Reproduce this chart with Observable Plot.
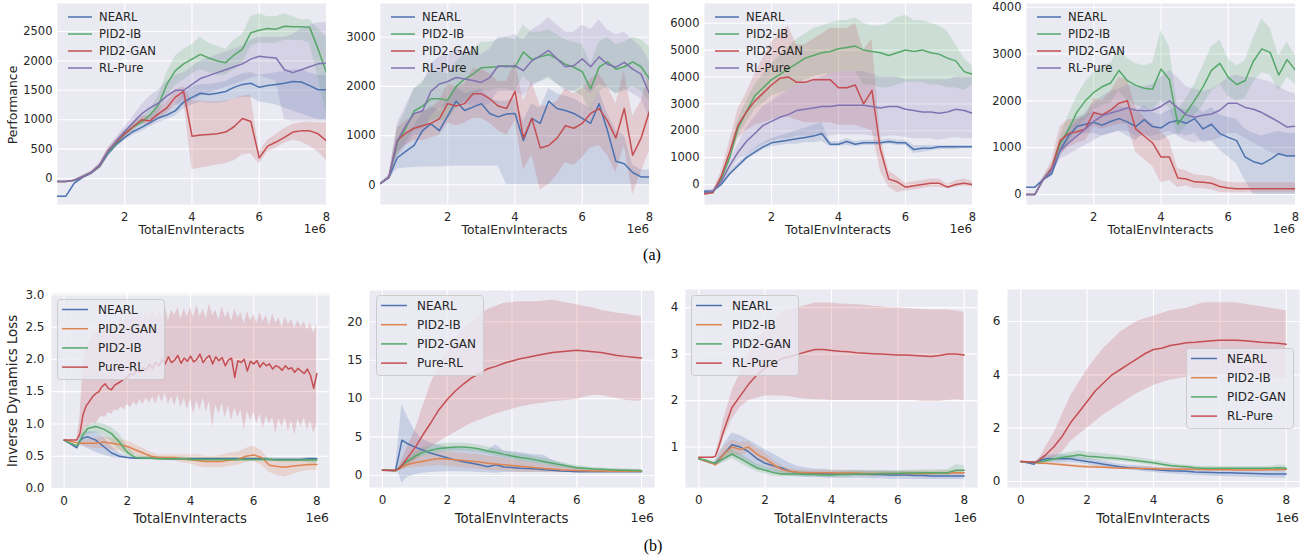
<!DOCTYPE html>
<html><head><meta charset="utf-8">
<script src="https://cdn.jsdelivr.net/npm/d3@7"></script>
<script src="https://cdn.jsdelivr.net/npm/@observablehq/plot@0.6"></script>
<style>
body{margin:0;background:#fff}
#root{position:relative;width:1307px;height:558px;overflow:hidden;background:#fff}
#root svg{position:absolute;overflow:visible}
</style></head><body><div id="root"></div>
<script>
// ---------- x grids (units of 1e6 interactions) ----------
const XA = [0,0.25,0.5,0.75,1,1.25,1.5,1.75,2,2.25,2.5,2.75,3,3.25,3.5,3.75,4,4.25,4.5,4.75,5,5.25,5.5,5.75,6,6.25,6.5,6.75,7,7.25,7.5,7.75,8];
const XB = [0,0.2,0.4,0.5,0.6,0.75, 1,1.25,1.5,1.75, 2,2.25,2.5,2.75, 3,3.25,3.5,3.75, 4,4.25,4.5,4.75, 5,5.25,5.5,5.75, 6,6.25,6.5,6.75, 7,7.25,7.5,7.75, 8];
const XF = [0,0.1,0.2,0.3,0.4,0.5,0.6,0.7,0.8,0.9, 1,1.1,1.2,1.3,1.4,1.5,1.6,1.7,1.8,1.9, 2,2.1,2.2,2.3,2.4,2.5,2.6,2.7,2.8,2.9, 3,3.1,3.2,3.3,3.4,3.5,3.6,3.7,3.8,3.9, 4,4.1,4.2,4.3,4.4,4.5,4.6,4.7,4.8,4.9, 5,5.1,5.2,5.3,5.4,5.5,5.6,5.7,5.8,5.9, 6,6.1,6.2,6.3,6.4,6.5,6.6,6.7,6.8,6.9, 7,7.1,7.2,7.3,7.4,7.5,7.6,7.7,7.8,7.9, 8];

// ---------- row (a), panel 1 ----------
const a1_nearl    = [-300,-300,-80,20,90,200,420,580,700,800,870,950,1030,1080,1150,1300,1380,1450,1430,1450,1480,1550,1600,1620,1550,1580,1600,1620,1650,1640,1580,1510,1510];
const a1_nearl_lo = [-300,-300,-100,0,70,170,370,530,640,740,800,880,950,1000,1060,1180,1250,1300,1280,1280,1300,1350,1380,1380,1300,1280,1250,1200,1150,1100,1050,1000,1000];
const a1_nearl_hi = [-300,-300,-60,40,110,230,470,630,760,860,940,1020,1100,1160,1250,1450,1550,1600,1600,1620,1650,1720,1780,1800,1750,1780,1800,1820,1850,1850,1800,1750,1750];
const a1_ib    = [-50,-50,-30,30,100,210,440,600,760,880,960,1080,1250,1600,1830,1950,2030,2110,2050,2000,1970,2100,2200,2480,2520,2550,2540,2590,2580,2580,2570,2200,1800];
const a1_ib_lo = [-50,-50,-40,10,80,190,400,560,700,820,900,1000,1100,1380,1580,1680,1780,1850,1800,1750,1750,1850,1950,2250,2300,2300,2300,2350,2350,2350,2300,1700,1100];
const a1_ib_hi = [-50,-50,-20,50,120,240,480,640,820,940,1030,1170,1400,1800,2080,2200,2280,2400,2300,2250,2200,2350,2450,2750,2800,2750,2750,2800,2750,2700,2700,2550,2400];
const a1_gan    = [-50,-50,-30,30,100,220,470,620,760,880,1000,980,1100,1200,1380,1480,720,740,750,760,790,880,1020,970,350,550,620,700,790,810,810,760,640];
const a1_gan_lo = [-50,-50,-40,10,80,190,430,570,700,820,930,900,1000,1100,1250,1350,150,180,200,230,250,300,400,420,250,450,520,600,650,620,550,450,300];
const a1_gan_hi = [-50,-50,-20,50,120,250,520,670,820,940,1070,1060,1200,1300,1500,1560,1320,1320,1300,1300,1320,1350,1400,1420,450,650,750,850,920,950,960,950,950];
const a1_rl    = [-50,-50,-30,30,100,230,460,640,800,950,1100,1200,1280,1400,1500,1500,1600,1700,1750,1800,1850,1900,1950,2030,2080,2060,2050,1850,1800,1850,1900,1950,1960];
const a1_rl_lo = [-50,-50,-40,10,80,200,420,580,720,850,950,1000,1050,1150,1250,1250,1300,1400,1450,1500,1550,1600,1650,1700,1750,1700,1650,1000,980,980,980,980,980];
const a1_rl_hi = [-50,-50,-20,50,120,260,500,700,880,1050,1250,1400,1500,1650,1750,1800,1900,2000,2050,2100,2150,2200,2250,2350,2400,2400,2400,2400,2450,2550,2600,2650,2650];

// ---------- row (a), panel 2 ----------
const a2_nearl    = [30,150,550,680,800,1100,1240,1100,1400,1700,1510,1580,1650,1450,1380,1440,1450,900,1350,1250,1700,1550,1510,1450,1350,1250,1650,1100,480,430,250,160,160];
const a2_nearl_lo = [30,100,320,340,350,360,360,360,370,380,380,380,380,380,380,0,0,0,0,0,0,0,0,0,0,0,0,0,0,0,0,0,0];
const a2_nearl_hi = [30,200,800,1000,1200,1450,1600,1500,1750,2000,1850,1900,1950,1750,1700,1700,1750,1300,1650,1550,1950,1850,1800,1750,1650,1550,1900,1450,1100,1000,400,300,300];
const a2_ib    = [30,150,850,1150,1500,1600,1750,1750,1720,2000,2150,2250,2380,2390,2400,2420,2390,2700,2550,2600,2650,2560,2450,2390,2300,1950,2390,2500,2350,2400,2500,2400,2150];
const a2_ib_lo = [30,120,600,850,1100,1150,1300,1300,1300,1550,1700,1800,1900,1900,1950,1950,1900,2200,2050,2100,2150,2050,1950,1900,1800,1500,1900,2000,1850,1900,2000,1900,1700];
const a2_ib_hi = [30,180,1150,1500,1950,2100,2300,2300,2250,2500,2650,2750,2900,2900,2950,3000,2950,3250,3100,3100,3150,3050,2950,2900,2850,2450,2900,3000,2850,2900,3000,2950,2800];
const a2_gan    = [30,150,900,1050,1150,1200,1250,1340,1650,1600,1650,1850,1850,1750,1600,1550,1900,950,1350,750,800,950,1200,1150,1250,1450,1550,1300,950,1550,600,950,1500];
const a2_gan_lo = [30,120,650,800,900,900,950,1000,1250,1200,1250,1350,1350,1250,1100,1000,1300,300,600,-100,0,200,450,400,550,750,800,600,250,800,-200,250,700];
const a2_gan_hi = [30,180,1150,1300,1400,1500,1550,1700,2050,2000,2050,2350,2350,2250,2100,2100,2500,1700,2100,1600,1600,1700,1950,1850,1950,2150,2250,2000,1650,2300,1400,1700,2300];
const a2_rl    = [30,150,900,1200,1450,1500,1900,2050,2100,2180,2150,2120,2080,2180,2420,2400,2420,2320,2520,2620,2730,2560,2400,2420,2560,2400,2600,2450,2390,2490,2350,2250,1850];
const a2_rl_lo = [30,120,550,800,1000,1000,1400,1550,1600,1650,1650,1600,1580,1650,1900,1900,1900,1800,2000,2100,2200,2050,1900,1900,2000,1850,2050,1950,1850,1950,1850,1750,1350];
const a2_rl_hi = [30,180,1250,1600,1950,2050,2450,2600,2650,2750,2700,2700,2650,2750,3000,3000,3050,2950,3150,3250,3400,3250,3100,3100,3250,3150,3350,3150,3050,3100,2950,2800,2500];

// ---------- row (a), panel 3 ----------
const a3_nearl    = [-250,-250,0,400,700,1000,1200,1400,1550,1600,1650,1700,1750,1800,1900,1500,1500,1600,1500,1550,1550,1550,1600,1550,1550,1300,1350,1350,1400,1400,1400,1400,1400];
const a3_nearl_lo = [-300,-300,-50,300,600,900,1100,1300,1400,1450,1500,1500,1550,1550,1600,1400,1400,1450,1400,1450,1450,1450,1500,1450,1450,1150,1200,1250,1300,1300,1300,1350,1350];
const a3_nearl_hi = [-200,-200,50,500,800,1100,1350,1550,1700,1800,1900,2000,2100,2200,2300,1600,1600,1700,1600,1650,1650,1650,1700,1650,1650,1450,1450,1450,1450,1450,1450,1450,1450];
const a3_ib    = [-300,-300,200,1000,2100,2700,3300,3600,3900,4100,4300,4500,4700,4800,4900,4950,5050,5100,5150,5000,4950,4900,4800,4900,5000,4950,5000,4900,4850,4700,4600,4200,4100];
const a3_ib_lo = [-350,-350,100,800,1800,2300,2800,3000,3300,3400,3500,3700,3900,4000,4100,4100,4200,4200,4200,3700,3700,3600,3600,3700,3800,3800,3800,3700,3700,3600,3600,3500,3700];
const a3_ib_hi = [-250,-250,300,1200,2400,3100,3700,4100,4500,4800,5100,5400,5600,5800,5900,6000,6100,6100,6200,6000,5900,5900,6000,6200,6300,6100,6100,6000,5900,5700,5200,4700,4400];
const a3_gan    = [-350,-300,300,1200,2200,2700,3100,3400,3700,3950,4000,3800,3800,3900,3900,3900,3600,3600,3700,3000,3500,1300,200,100,-100,-50,0,50,50,-100,0,50,0];
const a3_gan_lo = [-400,-350,150,900,1700,2000,2200,2300,2400,2500,2500,2400,2300,2300,2300,2300,2200,2200,2200,2100,2000,500,-100,-300,-250,-200,-150,-100,-100,-150,-100,-50,-100];
const a3_gan_hi = [-300,-250,500,1600,2800,3400,4100,4700,5300,5600,5900,5200,5200,5400,5600,5800,5800,5800,6000,5000,5400,1800,500,300,50,100,150,200,200,0,150,200,100];
const a3_rl    = [-300,-250,100,700,1200,1600,1900,2200,2350,2500,2600,2750,2800,2850,2900,2900,2950,2950,2950,2950,2900,2850,2900,2900,2800,2750,2700,2700,2650,2700,2800,2750,2650];
const a3_rl_lo = [-350,-300,0,500,900,1100,1300,1500,1600,1700,1700,1800,1800,1800,1800,1800,1850,1850,1850,1850,1800,1750,1800,1800,1750,1700,1700,1700,1650,1700,1750,1700,1700];
const a3_rl_hi = [-250,-200,200,900,1500,2100,2500,2900,3100,3300,3500,3700,3800,3900,4000,4100,4200,4200,4200,4200,4100,4000,4000,4000,3900,3900,3900,3900,3900,3900,4000,4000,4000];

// ---------- row (a), panel 4 ----------
const a4_nearl    = [157,157,320,440,940,1250,1450,1500,1540,1480,1560,1620,1550,1450,1600,1450,1420,1540,1580,1520,1620,1400,1500,1300,1220,1150,800,700,650,750,870,820,830];
const a4_nearl_lo = [157,157,280,380,800,1080,1250,1300,1300,1250,1300,1350,1250,1150,1300,1150,1150,1250,1300,1250,1300,1100,1150,950,800,650,300,0,0,0,0,0,0];
const a4_nearl_hi = [157,157,360,500,1080,1420,1650,1700,1780,1720,1800,1880,1850,1750,1900,1750,1700,1800,1850,1800,1900,1750,1850,1700,1650,1600,1400,1300,1250,1300,1350,1300,1300];
const a4_ib    = [0,0,320,520,1080,1390,1760,2000,2180,2300,2380,2650,2430,2330,2270,2250,2680,2450,1500,1750,2010,2300,2650,2800,2500,2350,2430,2850,3110,3030,2550,2880,2650];
const a4_ib_lo = [0,0,280,450,900,1100,1400,1600,1800,1900,1950,2200,2000,1900,1850,1800,2000,1850,1250,1450,1700,1900,2200,2350,2100,2000,2050,2400,2600,2550,2200,2500,2350];
const a4_ib_hi = [0,0,360,600,1250,1700,2100,2400,2600,2750,2800,3100,2900,2800,2750,2800,3500,3150,1800,2050,2350,2750,3150,3300,2900,2750,2850,3350,3750,3550,2950,3250,2950];
const a4_gan    = [0,0,320,560,1150,1300,1340,1400,1750,1700,1800,1950,2000,1400,1250,1100,800,800,350,330,270,260,240,170,140,120,120,120,120,120,120,120,120];
const a4_gan_lo = [0,0,270,420,850,1000,1100,1150,1450,1400,1450,1500,1500,900,750,600,250,300,150,180,120,120,100,40,30,30,30,30,30,30,30,30,30];
const a4_gan_hi = [0,0,370,720,1450,1600,1600,1650,2050,2000,2200,2500,2450,1850,1650,1500,1350,1150,550,500,420,400,380,300,260,250,250,250,250,250,250,250,250];
const a4_rl    = [0,0,320,520,940,1100,1250,1400,1560,1680,1740,1790,1850,1800,1790,1800,1880,2000,1850,1700,1650,1690,1720,1800,1950,1950,1860,1820,1750,1650,1550,1440,1460];
const a4_rl_lo = [0,0,270,420,750,850,950,1050,1150,1250,1300,1350,1350,1250,1250,1250,1300,1350,1250,1150,1100,1150,1150,1200,1300,1300,1200,1100,1000,900,850,800,800];
const a4_rl_hi = [0,0,370,620,1150,1400,1550,1750,1950,2100,2200,2250,2350,2300,2300,2350,2500,2650,2500,2300,2250,2200,2250,2350,2500,2550,2500,2500,2450,2400,2300,2200,2150];

// ---------- row (b), panel 1 ----------
const b1_nearl    = [.75,.69,.63,.74,.78,.8, .75,.65,.55,.5, .48,.47,.47,.47, .47,.46,.46,.46, .46,.46,.46,.46, .46,.46,.46,.46, .46,.46,.45,.45, .45,.45,.45,.46, .46];
const b1_nearl_lo = [.75,.69,.62,.66,.66,.62, .56,.52,.48,.47, .46,.45,.45,.45, .45,.44,.44,.44, .44,.44,.44,.44, .44,.44,.44,.44, .44,.44,.43,.43, .43,.43,.43,.43, .43];
const b1_nearl_hi = [.75,.7,.64,.8,.86,.88, .88,.8,.65,.55, .5,.49,.49,.49, .49,.48,.48,.48, .48,.48,.48,.48, .48,.48,.48,.48, .48,.48,.47,.47, .47,.47,.47,.48, .48];
const b1_gan    = [.75,.73,.71,.7,.7,.7, .7,.72,.7,.68, .65,.6,.55,.5, .48,.48,.48,.46, .45,.43,.42,.42, .42,.44,.45,.5, .52,.48,.36,.34, .33,.35,.36,.37, .37];
const b1_gan_lo = [.75,.72,.7,.68,.66,.64, .62,.62,.6,.58, .56,.52,.48,.45, .44,.44,.43,.4, .38,.34,.32,.32, .32,.35,.36,.4, .42,.36,.25,.2, .18,.22,.26,.28, .28];
const b1_gan_hi = [.75,.74,.72,.72,.74,.76, .78,.8,.78,.76, .74,.68,.62,.56, .52,.52,.52,.52, .52,.52,.5,.5, .52,.55,.56,.62, .66,.58,.45,.44, .44,.44,.44,.45, .45];
const b1_ib    = [.75,.7,.66,.73,.84,.93, .96,.92,.85,.72, .56,.48,.47,.47, .46,.46,.46,.46, .45,.45,.45,.45, .45,.45,.45,.45, .45,.45,.45,.44, .44,.44,.44,.44, .44];
const b1_ib_lo = [.75,.7,.65,.68,.76,.84, .86,.82,.72,.6, .5,.45,.44,.44, .43,.43,.43,.43, .42,.42,.42,.42, .42,.42,.42,.42, .42,.42,.42,.41, .41,.41,.41,.4, .38];
const b1_ib_hi = [.75,.71,.67,.78,.9,.98, 1.02,1.0,.95,.84, .65,.52,.5,.5, .49,.49,.49,.49, .48,.48,.48,.48, .48,.48,.48,.48, .48,.48,.48,.47, .47,.47,.47,.48, .48];
// Pure-RL in this panel is read on the finer grid XF (its curve is jagged)
const b1_rl    = [.75,.75,.75,.75,.75,.85,1.15,1.28,1.35,1.42, 1.47,1.5,1.58,1.62,1.55,1.53,1.6,1.63,1.66,1.7, 1.72,1.78,1.76,1.83,1.8,1.87,1.84,1.92,1.86,1.95, 1.9,2.0,1.93,2.04,1.95,1.99,2.06,1.94,2.02,1.97, 2.05,1.96,2.0,2.08,1.95,2.02,2.06,1.93,2.04,1.98, 2.03,1.9,1.99,2.02,1.72,1.98,1.95,2.0,1.82,1.97, 1.93,1.98,1.88,1.95,1.9,1.93,1.85,1.9,1.88,1.83, 1.9,1.85,1.87,1.8,1.86,1.82,1.78,1.85,1.75,1.55, 1.78];
const b1_rl_lo = [.75,.75,.75,.75,.75,.8,.88,.95,.98,1.02, 1.0,1.08,1.12,1.1,1.18,1.15,1.22,1.2,1.26,1.22, 1.3,1.25,1.34,1.28,1.38,1.3,1.4,1.32,1.42,1.3, 1.45,1.33,1.48,1.3,1.42,1.28,1.45,1.25,1.4,1.22, 1.38,1.15,1.36,1.2,1.4,1.18,1.35,.95,1.3,1.15, 1.32,1.1,1.28,1.05,1.25,1.1,1.22,.9,1.2,1.05, 1.18,1.0,1.15,.92,1.12,1.0,1.1,.85,1.08,.95, 1.1,.88,1.05,.82,1.08,.95,1.1,.9,1.05,.85, 1.0];
const b1_rl_hi = [.75,.75,.75,.75,.75,1.1,1.9,2.15,2.25,2.35, 2.42,2.38,2.5,2.45,2.55,2.48,2.6,2.52,2.66,2.55, 2.7,2.6,2.75,2.62,2.78,2.6,2.72,2.65,2.8,2.62, 2.75,2.66,2.82,2.6,2.76,2.68,2.8,2.62,2.78,2.66, 2.8,2.64,2.84,2.66,2.78,2.62,2.86,2.68,2.76,2.6, 2.82,2.65,2.75,2.58,2.78,2.64,2.72,2.55,2.74,2.6, 2.7,2.56,2.72,2.58,2.68,2.52,2.7,2.56,2.64,2.5, 2.66,2.54,2.62,2.48,2.6,2.5,2.58,2.45,2.56,2.4, 2.55];

// ---------- row (b), panel 2 ----------
const b2_nearl    = [.7,.65,.6,2.5,4.6,4.2, 3.7,3.3,2.9,2.6, 2.3,2.0,1.8,1.6, 1.4,1.15,1.4,1.1, 1.05,.95,.9,.85, .75,.7,.6,.55, .5,.5,.5,.5, .5,.5,.5,.5, .5];
const b2_nearl_lo = [.7,.6,.5,.3,-1.0,-.3, .1,.3,.4,.45, .5,.5,.5,.45, .4,.35,.3,.4, .4,.4,.4,.4, .4,.4,.4,.4, .4,.4,.4,.4, .4,.4,.4,.4, .4];
const b2_nearl_hi = [.7,.7,.7,5.0,9.2,7.8, 5.8,4.7,4.2,3.9, 3.7,3.6,3.5,3.4, 3.3,3.3,4.0,3.2, 3.1,3.0,2.8,2.7, 2.6,2.0,1.6,1.3, 1.1,1.0,.9,.85, .8,.8,.75,.75, .75];
const b2_ib    = [.7,.65,.6,.8,1.1,1.4, 1.65,1.85,2.05,2.2, 2.15,2.05,1.95,1.85, 1.75,1.6,1.5,1.4, 1.3,1.2,1.1,1.0, .9,.85,.75,.7, .65,.62,.6,.58, .56,.55,.55,.55, .55];
const b2_ib_lo = [.7,.6,.55,.6,.75,.9, 1.0,1.1,1.2,1.3, 1.2,1.1,1.0,.9, .8,.7,.6,.55, .5,.45,.4,.4, .38,.36,.35,.35, .35,.35,.35,.35, .35,.35,.35,.35, .35];
const b2_ib_hi = [.7,.7,.65,1.0,1.4,1.9, 2.3,2.6,2.9,3.1, 3.1,3.0,2.9,2.8, 2.7,2.55,2.4,2.25, 2.1,1.95,1.8,1.6, 1.4,1.3,1.15,1.05, .95,.9,.85,.8, .77,.75,.75,.75, .75];
const b2_gan    = [.7,.68,.65,.9,1.3,1.8, 2.5,3.0,3.3,3.5, 3.6,3.7,3.7,3.6, 3.45,3.2,3.0,2.75, 2.55,2.35,2.2,2.0, 1.8,1.6,1.4,1.2, 1.0,.95,.85,.8, .75,.7,.68,.65, .62];
const b2_gan_lo = [.7,.66,.62,.8,1.0,1.4, 2.0,2.5,2.8,3.0, 3.1,3.2,3.2,3.1, 3.0,2.75,2.55,2.3, 2.1,1.9,1.75,1.55, 1.4,1.2,1.05,.9, .75,.7,.65,.6, .58,.55,.53,.5, .48];
const b2_gan_hi = [.7,.7,.68,1.0,1.6,2.2, 3.0,3.6,3.9,4.1, 4.2,4.2,4.2,4.1, 3.95,3.7,3.45,3.2, 3.0,2.8,2.65,2.45, 2.2,2.0,1.75,1.5, 1.3,1.2,1.05,1.0, .95,.9,.85,.82, .8];
const b2_rl    = [.7,.7,.7,.9,1.3,2.2, 3.6,5.3,6.9,8.6, 9.9,11.0,11.9,12.7, 13.3,13.9,14.2,14.6, 14.9,15.2,15.4,15.6, 15.8,16.0,16.1,16.2, 16.3,16.2,16.1,16.0, 15.8,15.6,15.5,15.4, 15.3];
const b2_rl_lo = [.7,.7,.7,.75,.8,1.2, 2.0,3.0,3.7,4.4, 5.0,5.6,6.2,6.8, 7.2,7.6,8.0,8.3, 8.6,8.9,9.1,9.3, 9.4,9.6,9.7,9.8, 9.9,10.2,10.4,10.4, 10.2,10.0,9.8,9.7, 9.7];
const b2_rl_hi = [.7,.7,.7,1.0,2.0,3.5, 5.8,9.0,12.0,14.3, 16.2,17.8,19.0,20.0, 20.8,21.6,22.0,22.4, 22.5,22.6,22.6,22.6, 22.7,22.8,22.6,22.4, 22.2,22.0,21.8,21.5, 21.3,21.1,21.0,20.8, 20.7];

// ---------- row (b), panel 3 ----------
const b3_nearl    = [.75,.7,.65,.65,.72,.85, 1.05,1.0,.9,.75, .65,.6,.55,.48, .45,.44,.43,.43, .42,.42,.42,.42, .42,.41,.41,.4, .4,.4,.39,.39, .38,.38,.38,.38, .38];
const b3_nearl_lo = [.75,.7,.65,.6,.62,.7, .8,.75,.65,.55, .5,.45,.4,.38, .36,.35,.35,.34, .33,.33,.33,.33, .33,.32,.32,.31, .31,.31,.3,.3, .3,.3,.3,.3, .3];
const b3_nearl_hi = [.75,.71,.66,.7,.85,1.05, 1.3,1.25,1.15,1.05, .95,.85,.75,.65, .58,.55,.52,.52, .5,.5,.5,.5, .5,.49,.49,.48, .48,.48,.47,.47, .46,.46,.46,.46, .46];
const b3_ib    = [.75,.7,.65,.62,.7,.85, 1.0,.95,1.0,.85, .75,.62,.52,.48, .46,.45,.45,.45, .45,.44,.44,.44, .43,.43,.43,.43, .43,.43,.43,.43, .43,.44,.44,.45, .45];
const b3_ib_lo = [.75,.7,.64,.58,.62,.72, .82,.82,.88,.72, .62,.52,.45,.42, .41,.4,.4,.4, .4,.39,.39,.39, .38,.38,.38,.38, .38,.38,.38,.38, .38,.39,.39,.4, .4];
const b3_ib_hi = [.75,.71,.66,.66,.8,1.0, 1.15,1.1,1.12,.98, .88,.72,.6,.54, .51,.5,.5,.5, .5,.49,.49,.49, .48,.48,.48,.48, .48,.48,.48,.48, .48,.49,.49,.5, .5];
const b3_gan    = [.75,.72,.67,.65,.7,.75, .85,.75,.65,.55, .5,.45,.42,.42, .42,.41,.41,.4, .4,.41,.41,.42, .42,.42,.43,.43, .43,.44,.44,.45, .45,.45,.45,.5, .5];
const b3_gan_lo = [.75,.71,.65,.6,.63,.66, .75,.65,.55,.47, .42,.38,.36,.36, .36,.35,.35,.34, .34,.35,.35,.36, .36,.36,.37,.37, .37,.38,.38,.39, .39,.39,.39,.42, .42];
const b3_gan_hi = [.75,.73,.69,.7,.77,.84, .95,.85,.75,.63, .58,.52,.48,.48, .48,.47,.47,.46, .46,.47,.47,.48, .48,.48,.49,.49, .49,.5,.5,.51, .51,.51,.51,.62, .6];
const b3_rl    = [.78,.78,.78,.8,1.0,1.35, 1.85,2.1,2.35,2.55, 2.7,2.8,2.9,2.95, 3.0,3.05,3.1,3.1, 3.08,3.06,3.05,3.03, 3.02,3.01,3.0,2.99, 2.98,2.98,2.97,2.96, 2.95,2.97,3.0,3.0, 2.98];
const b3_rl_lo = [.78,.78,.78,.78,.85,1.2, 1.6,1.85,2.0,2.05, 2.1,2.1,2.1,2.08, 2.05,2.03,2.02,2.02, 2.0,2.0,2.0,2.0, 2.0,2.0,2.0,2.0, 2.0,2.0,2.0,1.98, 1.98,1.98,2.0,2.02, 2.0];
const b3_rl_hi = [.78,.78,.78,.82,1.1,1.6, 2.2,2.6,3.0,3.3, 3.5,3.7,3.9,3.95, 4.0,4.05,4.1,4.1, 4.1,4.08,4.07,4.06, 4.05,4.03,4.02,4.0, 4.0,3.98,3.97,3.96, 3.95,3.95,3.95,3.93, 3.9];

// ---------- row (b), panel 4 ----------
const b4_nearl    = [.75,.7,.65,.75,.8,.85, .85,.85,.85,.8, .75,.7,.65,.6, .55,.52,.5,.47, .45,.42,.4,.39, .38,.36,.35,.34, .33,.33,.32,.31, .3,.29,.28,.28, .28];
const b4_nearl_lo = [.75,.68,.62,.68,.7,.72, .7,.7,.7,.68, .63,.58,.54,.5, .46,.43,.4,.37, .34,.31,.29,.27, .25,.23,.22,.2, .19,.18,.17,.16, .15,.14,.13,.12, .12];
const b4_nearl_hi = [.75,.72,.68,.82,.9,.98, 1.0,1.0,.98,.92, .87,.82,.76,.7, .64,.61,.6,.57, .55,.52,.5,.5, .5,.49,.48,.48, .47,.47,.47,.46, .45,.44,.43,.43, .43];
const b4_ib    = [.75,.73,.71,.69,.68,.68, .66,.63,.6,.57, .55,.54,.53,.52, .5,.5,.49,.49, .48,.47,.47,.46, .46,.45,.45,.44, .44,.44,.43,.43, .43,.43,.44,.44, .45];
const b4_ib_lo = [.75,.71,.68,.65,.63,.63, .61,.58,.55,.52, .5,.49,.48,.47, .46,.46,.45,.45, .44,.43,.43,.42, .42,.41,.41,.4, .4,.4,.39,.39, .39,.39,.4,.4, .41];
const b4_ib_hi = [.75,.75,.74,.73,.73,.73, .71,.68,.65,.62, .6,.59,.58,.57, .55,.55,.54,.54, .53,.52,.52,.51, .51,.5,.5,.49, .49,.49,.48,.48, .48,.48,.49,.49, .5];
const b4_gan    = [.75,.73,.72,.72,.74,.78, .85,.9,.95,1.0, .95,.93,.9,.88, .85,.82,.78,.74, .7,.65,.6,.57, .55,.52,.5,.5, .5,.5,.5,.5, .5,.5,.5,.52, .5];
const b4_gan_lo = [.75,.72,.7,.68,.68,.7, .74,.78,.82,.86, .82,.8,.78,.76, .74,.71,.68,.64, .6,.56,.52,.5, .48,.46,.44,.44, .44,.44,.44,.44, .44,.44,.44,.44, .42];
const b4_gan_hi = [.75,.74,.74,.76,.8,.86, .96,1.04,1.1,1.15, 1.1,1.07,1.04,1.0, .97,.94,.9,.85, .8,.74,.68,.64, .62,.59,.57,.57, .56,.56,.56,.56, .56,.56,.56,.62, .6];
const b4_rl    = [.75,.74,.72,.75,.85,1.0, 1.3,1.7,2.2,2.6, 3.0,3.4,3.7,4.0, 4.2,4.4,4.6,4.8, 4.95,5.0,5.1,5.15, 5.2,5.22,5.25,5.28, 5.3,5.3,5.3,5.28, 5.25,5.22,5.2,5.18, 5.15];
const b4_rl_lo = [.75,.74,.72,.73,.76,.8, .9,1.1,1.5,1.75, 2.0,2.25,2.5,2.7, 2.9,3.1,3.3,3.45, 3.6,3.7,3.8,3.85, 3.9,3.95,4.0,4.0, 4.0,4.0,4.0,4.0, 4.0,3.95,3.9,3.88, 3.85];
const b4_rl_hi = [.75,.74,.72,.78,.95,1.3, 1.8,2.5,3.2,3.7, 4.2,4.6,5.0,5.3, 5.6,5.8,6.0,6.1, 6.2,6.3,6.4,6.45, 6.5,6.6,6.7,6.7, 6.7,6.7,6.7,6.65, 6.6,6.55,6.5,6.45, 6.4];

// ---------- tick labels ----------
const xTicksA = [2,4,6,8];
const xTicksB = [0,2,4,6,8];
const yTicksA1 = [0,500,1000,1500,2000,2500];
const yTicksA2 = [0,1000,2000,3000];
const yTicksA3 = [0,1000,2000,3000,4000,5000,6000];
const yTicksA4 = [0,1000,2000,3000,4000];
const yTicksB1 = [0,0.5,1,1.5,2,2.5,3];
const yTicksB2 = [0,5,10,15,20];
const yTicksB3 = [1,2,3,4];
const yTicksB4 = [0,2,4,6];

const BLUE="#4c72b0", GREEN="#55a868", RED="#c44e52", PURPLE="#8172b2", ORANGE="#dd8452";
const TXT = "#262626";

const S = (m,lo,hi,xs)=>({m,lo,hi,xs});
const rowA = (L, R, yd, yt, sets) => ({row:"a", L, R, T:3, B:204, xd:[0,8], yd, xt:xTicksA, yt, yfmt:d=>String(d), xs:XA,
  series:[{name:"NEARL",c:BLUE,...sets[0]},{name:"PID2-IB",c:GREEN,...sets[1]},{name:"PID2-GAN",c:RED,...sets[2]},{name:"RL-Pure",c:PURPLE,...sets[3]}],
  legend:{x:L+11, y:17}});

const panels = [
  rowA(57, 326, [-442,2976], yTicksA1, [S(a1_nearl,a1_nearl_lo,a1_nearl_hi),S(a1_ib,a1_ib_lo,a1_ib_hi),S(a1_gan,a1_gan_lo,a1_gan_hi),S(a1_rl,a1_rl_lo,a1_rl_hi)]),
  rowA(380, 649, [-400,3685], yTicksA2, [S(a2_nearl,a2_nearl_lo,a2_nearl_hi),S(a2_ib,a2_ib_lo,a2_ib_hi),S(a2_gan,a2_gan_lo,a2_gan_hi),S(a2_rl,a2_rl_lo,a2_rl_hi)]),
  rowA(704, 972, [-744,6733], yTicksA3, [S(a3_nearl,a3_nearl_lo,a3_nearl_hi),S(a3_ib,a3_ib_lo,a3_ib_hi),S(a3_gan,a3_gan_lo,a3_gan_hi),S(a3_rl,a3_rl_lo,a3_rl_hi)]),
  rowA(1026, 1295, [-214,4079], yTicksA4, [S(a4_nearl,a4_nearl_lo,a4_nearl_hi),S(a4_ib,a4_ib_lo,a4_ib_hi),S(a4_gan,a4_gan_lo,a4_gan_hi),S(a4_rl,a4_rl_lo,a4_rl_hi)]),
  {row:"b", L:51, R:329, T:293, B:488, xd:[-0.4,8.4], yd:[0,3.02], xt:xTicksB, yt:yTicksB1, yfmt:d3.format(".1f"), xs:XB,
    series:[{name:"NEARL",c:BLUE,...S(b1_nearl,b1_nearl_lo,b1_nearl_hi)},{name:"PID2-GAN",c:ORANGE,...S(b1_gan,b1_gan_lo,b1_gan_hi)},{name:"PID2-IB",c:GREEN,...S(b1_ib,b1_ib_lo,b1_ib_hi)},{name:"Pure-RL",c:RED,...S(b1_rl,b1_rl_lo,b1_rl_hi,XF)}],
    legend:{x:57,y:299}},
  {row:"b", L:369, R:654, T:290, B:487, xd:[-0.4,8.4], yd:[-1.56,24.07], xt:xTicksB, yt:yTicksB2, yfmt:d=>String(d), xs:XB,
    series:[{name:"NEARL",c:BLUE,...S(b2_nearl,b2_nearl_lo,b2_nearl_hi)},{name:"PID2-IB",c:ORANGE,...S(b2_ib,b2_ib_lo,b2_ib_hi)},{name:"PID2-GAN",c:GREEN,...S(b2_gan,b2_gan_lo,b2_gan_hi)},{name:"Pure-RL",c:RED,...S(b2_rl,b2_rl_lo,b2_rl_hi)}],
    legend:{x:376,y:295}},
  {row:"b", L:685, R:977, T:289, B:487, xd:[-0.4,8.4], yd:[0.13,4.39], xt:xTicksB, yt:yTicksB3, yfmt:d=>String(d), xs:XB,
    series:[{name:"NEARL",c:BLUE,...S(b3_nearl,b3_nearl_lo,b3_nearl_hi)},{name:"PID2-IB",c:ORANGE,...S(b3_ib,b3_ib_lo,b3_ib_hi)},{name:"PID2-GAN",c:GREEN,...S(b3_gan,b3_gan_lo,b3_gan_hi)},{name:"RL-Pure",c:RED,...S(b3_rl,b3_rl_lo,b3_rl_hi)}],
    legend:{x:691,y:295}},
  {row:"b", L:1007, R:1299, T:289, B:487, xd:[-0.4,8.4], yd:[-0.225,7.2], xt:xTicksB, yt:yTicksB4, yfmt:d=>String(d), xs:XB,
    series:[{name:"NEARL",c:BLUE,...S(b4_nearl,b4_nearl_lo,b4_nearl_hi)},{name:"PID2-IB",c:ORANGE,...S(b4_ib,b4_ib_lo,b4_ib_hi)},{name:"PID2-GAN",c:GREEN,...S(b4_gan,b4_gan_lo,b4_gan_hi)},{name:"RL-Pure",c:RED,...S(b4_rl,b4_rl_lo,b4_rl_hi)}],
    legend:{x:1186,y:348}}
];

const root = document.getElementById("root");
const FONT = "DejaVu Sans, Liberation Sans, sans-serif";

for (const p of panels) {
  const mL = 52, mR = 12, mT = 6, mB = 26;
  const fs = p.row === "a" ? 11.5 : 12;
  const tables = p.series.map(s => {
    const xs = s.xs || p.xs;
    for (const k of ["m","lo","hi"]) if (s[k].length !== xs.length) throw new Error(`length mismatch ${p.row} ${s.name} ${k}: ${s[k].length} vs ${xs.length}`);
    return xs.map((x,i)=>({x, m:s.m[i], lo:s.lo[i], hi:s.hi[i]}));
  });
  const marks = [
    Plot.frame({fill:"#eaeaf2", stroke:"none"}),
    Plot.gridX(p.xt, {stroke:"#ffffff", strokeOpacity:1, strokeWidth:1.1}),
    Plot.gridY(p.yt, {stroke:"#ffffff", strokeOpacity:1, strokeWidth:1.1}),
  ];
  p.series.forEach((s,k)=>marks.push(Plot.areaY(tables[k],{x:"x", y1:"lo", y2:"hi", fill:s.c, fillOpacity:p.row==="a"?0.2:0.22, clip:true})));
  p.series.forEach((s,k)=>marks.push(Plot.lineY(tables[k],{x:"x", y:"m", stroke:s.c, strokeWidth:1.5, clip:true})));
  marks.push(Plot.axisX(p.xt, {tickSize:0, tickPadding:8, label:null, tickFormat:d=>String(d), fontSize:fs}));
  marks.push(Plot.axisY(p.yt, {tickSize:0, tickPadding:p.row==="a"?5:7, label:null, tickFormat:p.yfmt, fontSize:fs}));
  const svg = Plot.plot({
    width: p.R - p.L + mL + mR, height: p.B - p.T + mT + mB,
    marginLeft:mL, marginRight:mR, marginTop:mT, marginBottom:mB,
    x:{domain:p.xd}, y:{domain:p.yd},
    style:{background:"transparent", fontFamily:FONT, fontSize:fs+"px", color:TXT, overflow:"visible"},
    marks
  });
  svg.style.left = (p.L - mL) + "px";
  svg.style.top = (p.T - mT) + "px";
  root.appendChild(svg);
}

// ---------- overlay: legends and labels ----------
const ov = d3.create("svg").attr("width",1307).attr("height",558).style("left","0px").style("top","0px")
  .style("font-family",FONT).style("pointer-events","none");

for (const p of panels) {
  const g = ov.append("g");
  if (p.row === "a") {
    p.series.forEach((s,i)=>{
      const y = p.legend.y + i*17;
      g.append("line").attr("x1",p.legend.x).attr("x2",p.legend.x+24).attr("y1",y).attr("y2",y).attr("stroke",s.c).attr("stroke-width",1.5);
      g.append("text").attr("x",p.legend.x+31).attr("y",y).attr("dominant-baseline","central").attr("font-size",11.6).attr("fill",TXT).text(s.name);
    });
  } else {
    const bx = p.legend.x, by = p.legend.y;
    g.append("rect").attr("x",bx+0.5).attr("y",by+0.5).attr("width",107).attr("height",80).attr("rx",3)
      .attr("fill","#eaeaf2").attr("fill-opacity",0.8).attr("stroke","#cccccc").attr("stroke-width",1);
    p.series.forEach((s,i)=>{
      const y = by + 10.5 + i*19.2;
      g.append("line").attr("x1",bx+5).attr("x2",bx+31).attr("y1",y).attr("y2",y).attr("stroke",s.c).attr("stroke-width",1.5);
      g.append("text").attr("x",bx+41).attr("y",y).attr("dominant-baseline","central").attr("font-size",12).attr("fill",TXT).text(s.name);
    });
  }
  const cx = (p.L + p.R)/2;
  const ly = p.row === "a" ? 230 : 518;
  g.append("text").attr("x",cx).attr("y",ly).attr("text-anchor","middle").attr("dominant-baseline","central")
    .attr("font-size",p.row==="a"?12.3:13.2).attr("fill",TXT).text("TotalEnvInteracts");
  g.append("text").attr("x",p.R).attr("y",ly-1).attr("text-anchor","end").attr("dominant-baseline","central")
    .attr("font-size",p.row==="a"?11.8:12.4).attr("fill",TXT).text("1e6");
}
ov.append("text").attr("transform","translate(12,105) rotate(-90)").attr("text-anchor","middle").attr("dominant-baseline","central")
  .attr("font-size",12.4).attr("fill",TXT).text("Performance");
ov.append("text").attr("transform","translate(12,391) rotate(-90)").attr("text-anchor","middle").attr("dominant-baseline","central")
  .attr("font-size",13.3).attr("fill",TXT).text("Inverse Dynamics Loss");
ov.append("text").attr("x",652).attr("y",254).attr("text-anchor","middle").attr("dominant-baseline","central")
  .attr("font-family","Liberation Serif, serif").attr("font-size",16).attr("fill","#000").text("(a)");
ov.append("text").attr("x",653).attr("y",545).attr("text-anchor","middle").attr("dominant-baseline","central")
  .attr("font-family","Liberation Serif, serif").attr("font-size",16).attr("fill","#000").text("(b)");
root.appendChild(ov.node());
</script></body></html>
